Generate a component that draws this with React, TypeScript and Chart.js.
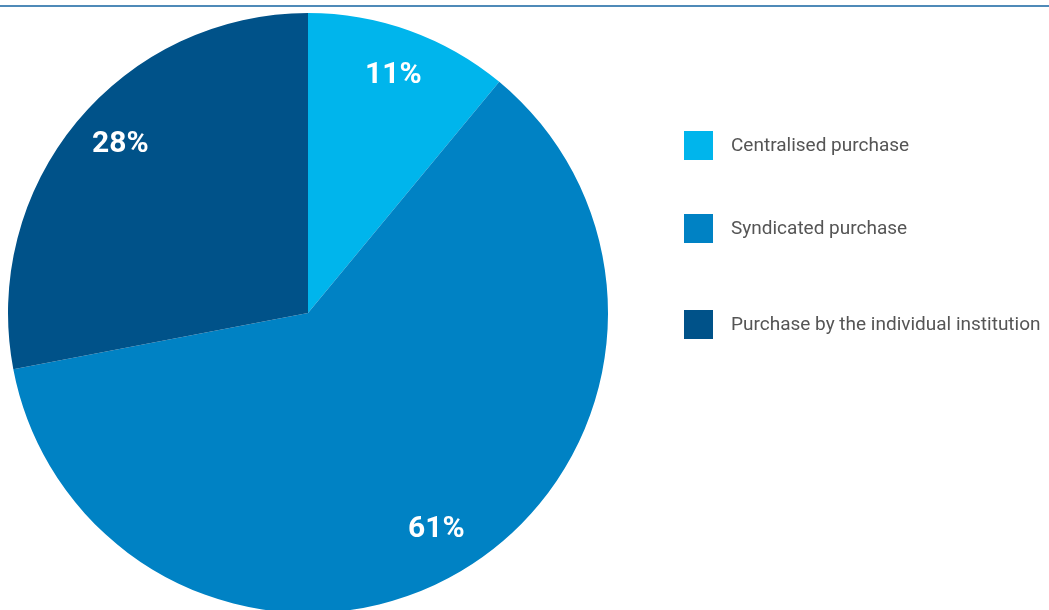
import React, { useEffect, useRef } from "react";
import { Chart, registerables } from "chart.js";

Chart.register(...registerables);

const categories = ["Centralised purchase", "Syndicated purchase", "Purchase by the individual institution"];
const shares = [11, 61, 28];
const sliceLabels = ["11%", "61%", "28%"];
const colors = ["#00b5ec", "#0082c4", "#005289"];
const legendTops = [131, 214, 310];

const labelPlugin = {
  id: "sliceLabels",
  afterDatasetsDraw(chart: any) {
    const ctx = chart.ctx;
    const meta = chart.getDatasetMeta(0);
    ctx.save();
    ctx.fillStyle = "#ffffff";
    ctx.font = "bold 30px Roboto";
    ctx.textAlign = "center";
    ctx.textBaseline = "middle";
    meta.data.forEach((arc: any, i: number) => {
      const { x, y, startAngle, endAngle, outerRadius } = arc.getProps(
        ["x", "y", "startAngle", "endAngle", "outerRadius"],
        true
      );
      const mid = (startAngle + endAngle) / 2 + (i === 2 ? 0.04 : 0);
      const r = outerRadius * 0.84;
      ctx.fillText(sliceLabels[i], x + Math.cos(mid) * r, y + Math.sin(mid) * r);
    });
    ctx.restore();
  },
};

export default function App() {
  const ref = useRef<HTMLCanvasElement>(null);
  useEffect(() => {
    document.body.style.margin = "0";
    const chart = new Chart(ref.current!, {
      type: "pie",
      data: {
        labels: categories,
        datasets: [
          {
            data: shares,
            backgroundColor: colors,
            borderWidth: 0,
          },
        ],
      },
      options: {
        responsive: false,
        animation: false,
        layout: { padding: { left: 8, top: 13, right: 441, bottom: 13 } },
        plugins: { legend: { display: false }, tooltip: { enabled: false } },
      },
      plugins: [labelPlugin],
    });
    return () => chart.destroy();
  }, []);

  return (
    <div style={{ position: "relative", width: 1049, height: 610, overflow: "hidden", background: "#fff" }}>
      <canvas ref={ref} width={1049} height={626} style={{ display: "block" }} />
      <div style={{ position: "absolute", left: 0, top: 5, width: 1049, height: 2, background: "#4f8ab8" }} />
      {categories.map((c, i) => (
        <div
          key={c}
          style={{
            position: "absolute",
            left: 684,
            top: legendTops[i],
            height: 29,
            display: "flex",
            alignItems: "center",
            whiteSpace: "nowrap",
          }}
        >
          <div style={{ width: 29, height: 29, background: colors[i] }} />
          <span
            style={{
              marginLeft: 18,
              fontFamily: "Roboto",
              fontSize: 19,
              color: "#555555",
              marginTop: -3,
            }}
          >
            {c}
          </span>
        </div>
      ))}
    </div>
  );
}
